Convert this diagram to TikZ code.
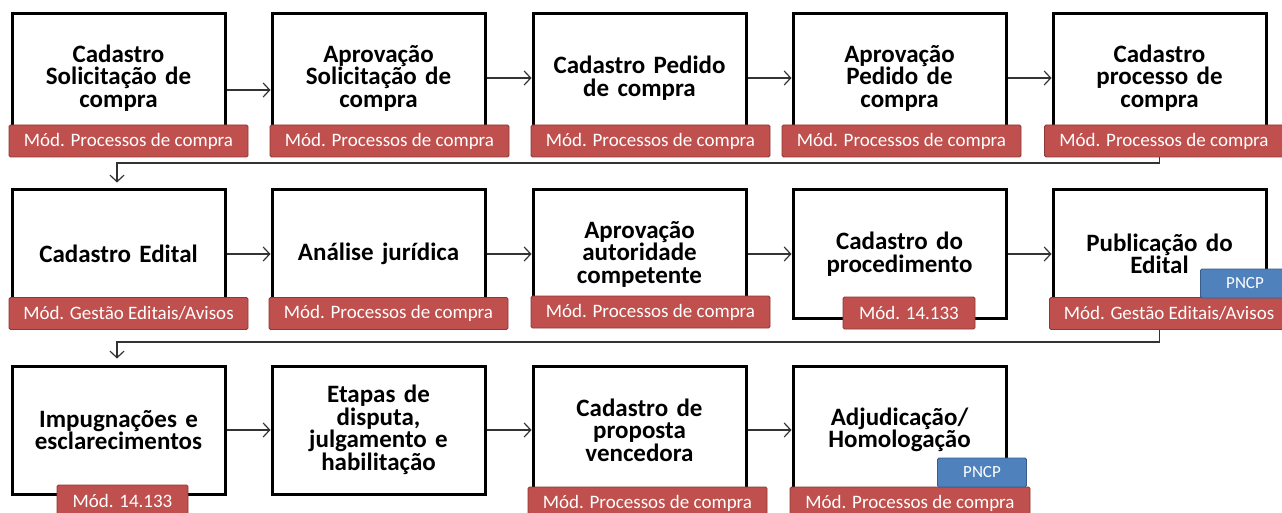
\documentclass[tikz,border=0pt]{standalone}
\usepackage{fontspec}
\setmainfont{Carlito}
\usetikzlibrary{arrows.meta,calc}
\definecolor{lblred}{HTML}{C0504D}
\definecolor{lblredb}{HTML}{8C3836}
\definecolor{lblblue}{HTML}{4F81BD}
\definecolor{lblblueb}{HTML}{385D8A}
\tikzset{
  stepbox/.style={draw=black, line width=3pt, fill=white, minimum width=213pt, minimum height=128pt,
    inner sep=0pt, align=center, text width=205pt, font=\fontsize{25}{22.5}\selectfont\bfseries},
  redlbl/.style={draw=lblredb, line width=0.8pt, fill=lblred, text=white, rounded corners=1.5pt,
    minimum height=32pt, inner sep=0pt, font=\fontsize{19}{20}\selectfont},
  bluelbl/.style={draw=lblblueb, line width=0.8pt, fill=lblblue, text=white, rounded corners=1.5pt,
    minimum width=89pt, minimum height=29pt, inner sep=0pt, font=\fontsize{17}{18}\selectfont},
  arr/.style={draw=black!80, line width=1.2pt, -{Straight Barb[length=6.5pt,width=14pt,line width=1.2pt]}}
}
\begin{document}
\begin{tikzpicture}[x=1pt,y=-1pt]
\clip (0,0) rectangle (1282,513);
\fill[white] (0,0) rectangle (1282,513);
% row 1
\node[stepbox] (b1) at (118.5,78) {Cadastro\\Solicitação de\\compra};
\node[stepbox] (b2) at (378.5,78) {Aprovação\\Solicitação de\\compra};
\node[stepbox] (b3) at (639.5,78) {Cadastro Pedido\\de compra};
\node[stepbox] (b4) at (899.5,78) {Aprovação\\Pedido de\\compra};
\node[stepbox] (b5) at (1159.5,78) {Cadastro\\processo de\\compra};
% row 2
\node[stepbox] (b6) at (118.5,254) {Cadastro Edital};
\node[stepbox] (b7) at (378.5,254) {Análise jurídica};
\node[stepbox] (b8) at (639.5,254) {Aprovação\\autoridade\\competente};
\node[stepbox] (b9) at (899.5,254) {Cadastro do\\procedimento};
\node[stepbox] (b10) at (1159.5,254) {Publicação do\\Edital};
% row 3
\node[stepbox] (b11) at (118.5,430) {Impugnações e\\esclarecimentos};
\node[stepbox] (b12) at (378.5,430) {Etapas de\\disputa,\\julgamento e\\habilitação};
\node[stepbox] (b13) at (639.5,430) {Cadastro de\\proposta\\vencedora};
\node[stepbox] (b14) at (899.5,430) {Adjudicação/\\Homologação};
% labels row 1
\node[redlbl, minimum width=239pt] (l1) at (128.5,141) {Mód. Processos de compra};
\node[redlbl, minimum width=239pt] (l2) at (389.5,141) {Mód. Processos de compra};
\node[redlbl, minimum width=239pt] (l3) at (650.5,141) {Mód. Processos de compra};
\node[redlbl, minimum width=239pt] (l4) at (901.5,141) {Mód. Processos de compra};
\node[redlbl, minimum width=239pt] (l5) at (1164,141) {Mód. Processos de compra};
% labels row 2
\node[redlbl, minimum width=239pt] (l6) at (128.5,313.5) {Mód. Gestão Editais/Avisos};
\node[redlbl, minimum width=239pt] (l7) at (388.5,313.5) {Mód. Processos de compra};
\node[redlbl, minimum width=239pt] (l8) at (650.5,312) {Mód. Processos de compra};
\node[redlbl, minimum width=132pt] (l9) at (909,313) {Mód. 14.133};
\node[redlbl, minimum width=239pt] (l10) at (1169,313.5) {Mód. Gestão Editais/Avisos};
\node[bluelbl] (p1) at (1245,283.5) {PNCP};
% labels row 3
\node[redlbl, minimum width=131pt] (l11) at (122.5,501) {Mód. 14.133};
\node[redlbl, minimum width=239pt] (l13) at (647.5,503) {Mód. Processos de compra};
\node[redlbl, minimum width=240pt] (l14) at (910,503) {Mód. Processos de compra};
\node[bluelbl] (p2) at (982,472.5) {PNCP};
% arrows row 1
\draw[arr] ([yshift=-12pt]b1.east) -- ([yshift=-12pt]b2.west);
\draw[arr] (b2) -- (b3);
\draw[arr] (b3) -- (b4);
\draw[arr] (b4) -- (b5);
% wrap 1
\coordinate (f1) at (117,163);
\draw[arr, shorten >=6pt] (b5.center |- l5.south) |- (f1) -- (f1 |- b6.north);
% arrows row 2
\draw[arr] (b6) -- (b7);
\draw[arr] (b7) -- (b8);
\draw[arr] (b8) -- (b9);
\draw[arr] (b9) -- (b10);
% wrap 2
\coordinate (f2) at (117,342);
\draw[arr, shorten >=6pt] (b10.center |- l10.south) |- (f2) -- (f2 |- b11.north);
% arrows row 3
\draw[arr] (b11) -- (b12);
\draw[arr] (b12) -- (b13);
\draw[arr] (b13) -- (b14);
\end{tikzpicture}
\end{document}
